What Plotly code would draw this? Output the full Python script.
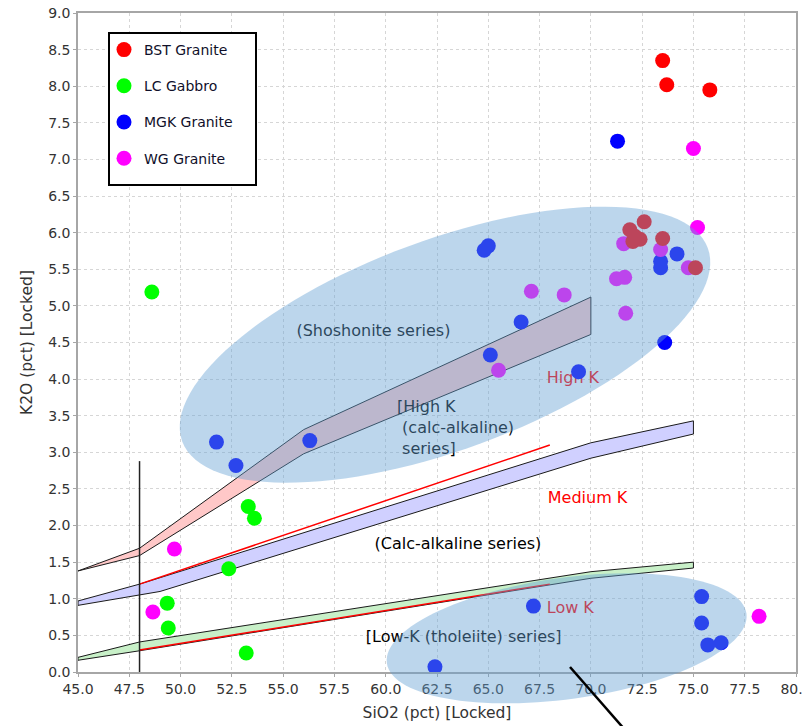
import math
import plotly.graph_objects as go

# ---------------- data ----------------
bst_sio2 = [73.5, 73.7, 75.8, 72.6, 71.9, 72.15, 72.4, 72.05, 73.5, 75.1]
bst_k2o = [8.35, 8.02, 7.95, 6.15, 6.04, 5.95, 5.91, 5.88, 5.92, 5.52]

lc_sio2 = [48.6, 53.3, 53.6, 52.35, 49.35, 49.4, 53.2]
lc_k2o = [5.19, 2.26, 2.10, 1.41, 0.94, 0.60, 0.26]

mgk_sio2 = [71.3, 64.8, 65.0, 66.6, 65.1, 69.4, 73.6, 74.2, 73.4, 73.4,
            51.75, 52.7, 56.3, 67.2, 62.4, 75.4, 75.4, 75.7, 76.35]
mgk_k2o = [7.25, 5.76, 5.82, 4.78, 4.33, 4.10, 4.50, 5.71, 5.61, 5.52,
           3.14, 2.82, 3.16, 0.90, 0.07, 1.03, 0.67, 0.37, 0.40]

wg_sio2 = [75.0, 75.2, 67.1, 68.7, 65.5, 71.6, 73.4, 71.25, 71.65, 71.7,
           74.75, 78.2, 49.7, 48.65]
wg_k2o = [7.15, 6.07, 5.20, 5.15, 4.12, 5.85, 5.77, 5.37, 5.39, 4.90,
          5.52, 0.76, 1.68, 0.82]

# series boundary bands (SiO2, K2O)
shosh_hk_upper_x = [45, 48, 56, 70]
shosh_hk_upper_y = [1.38, 1.69, 3.31, 5.12]
shosh_hk_lower_x = [45, 48, 56, 70]
shosh_hk_lower_y = [1.38, 1.59, 2.98, 4.61]

hk_mk_upper_x = [45, 48, 70, 75]
hk_mk_upper_y = [0.97, 1.20, 3.13, 3.43]
hk_mk_lower_x = [45, 48, 49, 70, 75]
hk_mk_lower_y = [0.91, 1.05, 1.10, 2.92, 3.25]

mk_lk_upper_x = [45, 48, 70, 75]
mk_lk_upper_y = [0.20, 0.41, 1.37, 1.50]
mk_lk_lower_x = [45, 48, 70, 75]
mk_lk_lower_y = [0.16, 0.29, 1.28, 1.42]

red1_x = [48, 68]
red1_y = [1.20, 3.10]
red2_x = [48, 68]
red2_y = [0.30, 1.20]

vline_x = [48, 48]
vline_y = [0.0, 2.88]

x_range = [45, 80]
y_range = [0, 9]

# ---------------- layout constants ----------------
W, H = 803, 726
ML, MR, MT, MB = 78, 7, 13, 54
PW, PH = W - ML - MR, H - MT - MB
FONT = "DejaVu Sans"


def to_paper(x, y):
    return ((x - x_range[0]) / (x_range[1] - x_range[0]),
            (y - y_range[0]) / (y_range[1] - y_range[0]))


def px_to_paper(px, py):
    return (px - ML) / PW, (H - MB - py) / PH


def ellipse_path(cx, cy, a_px, b_px, ang_deg, n=120):
    px0, py0 = to_paper(cx, cy)
    th = math.radians(ang_deg)
    parts = []
    for i in range(n):
        t = 2 * math.pi * i / n
        dx = a_px * math.cos(t) * math.cos(th) - b_px * math.sin(t) * math.sin(th)
        dy = a_px * math.cos(t) * math.sin(th) + b_px * math.sin(t) * math.cos(th)
        parts.append(("M" if i == 0 else "L") + f"{px0 + dx / PW:.5f},{py0 + dy / PH:.5f}")
    return " ".join(parts) + " Z"


def band(ux, uy, lx, ly, color):
    xs = list(ux) + list(reversed(lx)) + [ux[0]]
    ys = list(uy) + list(reversed(ly)) + [uy[0]]
    return go.Scatter(x=xs, y=ys, mode="lines", fill="toself", fillcolor=color,
                      line=dict(color="#1a1a1a", width=1), hoverinfo="skip",
                      showlegend=False)


fig = go.Figure()

fig.add_trace(band(shosh_hk_upper_x, shosh_hk_upper_y, shosh_hk_lower_x, shosh_hk_lower_y, "rgb(255,200,200)"))
fig.add_trace(band(hk_mk_upper_x, hk_mk_upper_y, hk_mk_lower_x, hk_mk_lower_y, "rgb(208,208,255)"))
fig.add_trace(band(mk_lk_upper_x, mk_lk_upper_y, mk_lk_lower_x, mk_lk_lower_y, "rgb(200,240,200)"))

for rx, ry in [(red1_x, red1_y), (red2_x, red2_y)]:
    fig.add_trace(go.Scatter(x=rx, y=ry, mode="lines", line=dict(color="red", width=1.5),
                             hoverinfo="skip", showlegend=False))

fig.add_trace(go.Scatter(x=vline_x, y=vline_y, mode="lines", line=dict(color="#222222", width=1.5),
                         hoverinfo="skip", showlegend=False))

# labels (drawn under the translucent ellipses)
labels = [
    (59.40, 4.64, "(Shoshonite series)", "black", "middle center"),
    (60.55, 3.32, "[High K<br>\u00a0(calc-alkaline)<br>\u00a0series]", "black", "middle right"),
    (67.85, 4.00, "High K", "red", "middle right"),
    (67.90, 2.36, "Medium K", "red", "middle right"),
    (67.85, 0.856, "Low K", "red", "middle right"),
    (63.52, 1.735, "(Calc-alkaline series)", "black", "middle center"),
    (63.80, 0.46, "[Low-K (tholeiite) series]", "black", "middle center"),
]
for lx, ly, txt, col, pos in labels:
    fig.add_trace(go.Scatter(x=[lx], y=[ly], mode="text", text=[txt], textposition=pos,
                             textfont=dict(family=FONT, size=16, color=col),
                             hoverinfo="skip", showlegend=False))

# sample points: drawing order LC, MGK, WG, BST ; legend order by legendrank
series = [
    ("LC Gabbro", lc_sio2, lc_k2o, "#00ff00", 2),
    ("MGK Granite", mgk_sio2, mgk_k2o, "#0000ff", 3),
    ("WG Granite", wg_sio2, wg_k2o, "#ff00ff", 4),
    ("BST Granite", bst_sio2, bst_k2o, "#ff0000", 1),
]
for name, xs, ys, col, rank in series:
    fig.add_trace(go.Scatter(x=xs, y=ys, mode="markers", name=name, legendrank=rank,
                             legendgroup=name,
                             marker=dict(color=col, size=15, line=dict(width=0))))

# legend frame (pixel box), ellipses (translucent, above the data) and pointer line
lg_x0, lg_y0 = px_to_paper(109, 33)
lg_x1, lg_y1 = px_to_paper(256, 185)
pt_x0, pt_y0 = px_to_paper(570, 667)
pt_x1, pt_y1 = px_to_paper(626, 731)
shapes = [
    dict(type="path", xref="paper", yref="paper", layer="above",
         path=ellipse_path(62.89, 4.47, 280, 105, 20.2),
         fillcolor="rgba(100,159,211,0.43)", line=dict(width=0)),
    dict(type="path", xref="paper", yref="paper", layer="above",
         path=ellipse_path(68.82, 0.46, 181.5, 60.7, 7.85),
         fillcolor="rgba(100,159,211,0.43)", line=dict(width=0)),
    dict(type="line", xref="paper", yref="paper", layer="above",
         x0=pt_x0, y0=pt_y0, x1=pt_x1, y1=pt_y1,
         line=dict(color="black", width=2.5)),
    dict(type="rect", xref="paper", yref="paper", layer="above",
         x0=lg_x0, y0=lg_y0, x1=lg_x1, y1=lg_y1,
         fillcolor="white", line=dict(color="black", width=2)),
]

axis_common = dict(
    automargin=False, ticklabeloverflow="allow",
    showline=True, mirror=True, linecolor="#a6a6a6", linewidth=1.5,
    ticks="outside", ticklen=3, tickcolor="#a6a6a6",
    showgrid=True, gridcolor="#d6d6d6", griddash="3px,3px", gridwidth=1,
    zeroline=False, tickformat=".1f",
    tickfont=dict(family=FONT, size=14, color="#333333"),
)

leg_x, leg_y = px_to_paper(104, 34)
fig.update_layout(
    width=W, height=H,
    margin=dict(l=ML, r=MR, t=MT, b=MB, pad=0, autoexpand=False),
    paper_bgcolor="white", plot_bgcolor="white",
    font=dict(family=FONT, size=14, color="#333333"),
    shapes=shapes,
    showlegend=True,
    legend=dict(x=leg_x, y=leg_y, xanchor="left", yanchor="top",
                bgcolor="rgba(0,0,0,0)", borderwidth=0,
                font=dict(family=FONT, size=14, color="#10102a"),
                tracegroupgap=15, itemclick=False),
    xaxis=dict(range=x_range, dtick=2.5, tick0=45,
               title=dict(text="SiO2 (pct) [Locked]", font=dict(family=FONT, size=15.5, color="#333333"),
                          standoff=12),
               **axis_common),
    yaxis=dict(range=y_range, dtick=0.5, tick0=0,
               title=dict(text="K2O (pct) [Locked]", font=dict(family=FONT, size=15.5, color="#333333"),
                          standoff=12),
               **axis_common),
)

fig.write_html("out.html", config={"displayModeBar": False},
               post_script="document.body.style.margin='0';")
